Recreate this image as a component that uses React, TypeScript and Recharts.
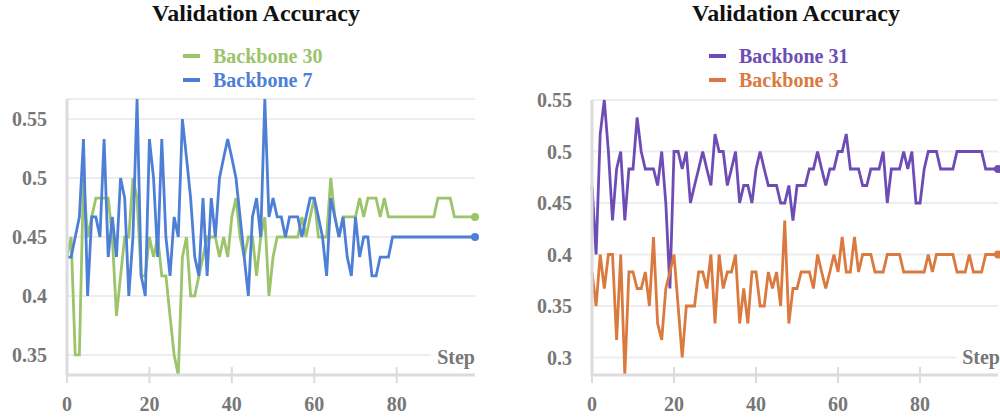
import { LineChart, Line, XAxis, YAxis, CartesianGrid } from "recharts"

// x categories: training steps 0..99
const steps = Array.from({ length: 100 }, (_, i) => i)

const backbone30 = [
    0.433, 0.45, 0.35, 0.35, 0.5, 0.45, 0.467, 0.483, 0.483, 0.483,
    0.483, 0.45, 0.383, 0.417, 0.45, 0.45, 0.5, 0.483, 0.417, 0.417,
    0.45, 0.433, 0.45, 0.417, 0.417, 0.383, 0.35, 0.333, 0.433, 0.45,
    0.4, 0.4, 0.417, 0.433, 0.45, 0.45, 0.45, 0.433, 0.45, 0.433,
    0.467, 0.483, 0.45, 0.433, 0.45, 0.45, 0.417, 0.45, 0.467, 0.4,
    0.433, 0.45, 0.45, 0.45, 0.45, 0.45, 0.45, 0.467, 0.45, 0.467,
    0.483, 0.45, 0.45, 0.45, 0.5, 0.467, 0.45, 0.467, 0.467, 0.467,
    0.467, 0.483, 0.467, 0.483, 0.483, 0.483, 0.467, 0.483, 0.467, 0.467,
    0.467, 0.467, 0.467, 0.467, 0.467, 0.467, 0.467, 0.467, 0.467, 0.467,
    0.483, 0.483, 0.483, 0.483, 0.467, 0.467, 0.467, 0.467, 0.467, 0.467,
]

const backbone7 = [
    0.433, 0.433, 0.45, 0.467, 0.533, 0.4, 0.467, 0.467, 0.45, 0.533,
    0.433, 0.467, 0.433, 0.5, 0.483, 0.4, 0.45, 0.567, 0.417, 0.4,
    0.533, 0.5, 0.433, 0.533, 0.45, 0.417, 0.467, 0.45, 0.55, 0.517,
    0.483, 0.433, 0.417, 0.483, 0.417, 0.483, 0.45, 0.5, 0.517, 0.533,
    0.517, 0.5, 0.467, 0.433, 0.4, 0.467, 0.483, 0.45, 0.567, 0.467,
    0.483, 0.467, 0.467, 0.45, 0.467, 0.467, 0.467, 0.45, 0.467, 0.483,
    0.483, 0.467, 0.45, 0.417, 0.483, 0.467, 0.45, 0.467, 0.433, 0.417,
    0.467, 0.433, 0.45, 0.45, 0.417, 0.417, 0.433, 0.433, 0.433, 0.45,
    0.45, 0.45, 0.45, 0.45, 0.45, 0.45, 0.45, 0.45, 0.45, 0.45,
    0.45, 0.45, 0.45, 0.45, 0.45, 0.45, 0.45, 0.45, 0.45, 0.45,
]

const backbone31 = [
    0.467, 0.4, 0.517, 0.55, 0.5, 0.433, 0.483, 0.5, 0.433, 0.483,
    0.483, 0.533, 0.5, 0.483, 0.483, 0.483, 0.467, 0.5, 0.45, 0.367,
    0.5, 0.5, 0.483, 0.5, 0.45, 0.467, 0.483, 0.5, 0.483, 0.467,
    0.517, 0.5, 0.5, 0.467, 0.483, 0.5, 0.45, 0.467, 0.467, 0.45,
    0.483, 0.5, 0.483, 0.467, 0.467, 0.467, 0.45, 0.45, 0.467, 0.433,
    0.467, 0.467, 0.467, 0.483, 0.483, 0.5, 0.483, 0.467, 0.483, 0.483,
    0.5, 0.5, 0.517, 0.483, 0.483, 0.483, 0.467, 0.467, 0.483, 0.483,
    0.483, 0.5, 0.45, 0.483, 0.483, 0.483, 0.5, 0.483, 0.5, 0.45,
    0.45, 0.483, 0.5, 0.5, 0.5, 0.483, 0.483, 0.483, 0.483, 0.5,
    0.5, 0.5, 0.5, 0.5, 0.5, 0.5, 0.483, 0.483, 0.483, 0.483,
]

const backbone3 = [
    0.383, 0.35, 0.4, 0.367, 0.4, 0.4, 0.317, 0.4, 0.283, 0.383,
    0.383, 0.367, 0.367, 0.383, 0.35, 0.417, 0.333, 0.317, 0.367, 0.383,
    0.4, 0.35, 0.3, 0.35, 0.35, 0.35, 0.383, 0.383, 0.367, 0.4,
    0.333, 0.4, 0.367, 0.383, 0.383, 0.4, 0.333, 0.367, 0.333, 0.383,
    0.383, 0.35, 0.35, 0.383, 0.367, 0.383, 0.35, 0.433, 0.333, 0.367,
    0.367, 0.383, 0.383, 0.383, 0.367, 0.4, 0.383, 0.367, 0.383, 0.4,
    0.383, 0.417, 0.383, 0.383, 0.417, 0.383, 0.4, 0.4, 0.4, 0.383,
    0.383, 0.383, 0.4, 0.4, 0.4, 0.4, 0.383, 0.383, 0.383, 0.383,
    0.383, 0.383, 0.4, 0.383, 0.4, 0.4, 0.4, 0.4, 0.4, 0.383,
    0.383, 0.383, 0.4, 0.383, 0.383, 0.383, 0.4, 0.4, 0.4, 0.4,
]

const leftTicks = [0.35, 0.4, 0.45, 0.5, 0.55]
const rightTicks = [0.3, 0.35, 0.4, 0.45, 0.5, 0.55]
const stepTicks = [0, 20, 40, 60, 80]

const leftSeries = [
    { key: "b30", name: "Backbone 30", color: "#9bc46b", values: backbone30 },
    { key: "b7", name: "Backbone 7", color: "#4e7fd6", values: backbone7 },
]
const rightSeries = [
    { key: "b31", name: "Backbone 31", color: "#6d4db5", values: backbone31 },
    { key: "b3", name: "Backbone 3", color: "#da7a3f", values: backbone3 },
]

const FONT = '"Liberation Serif", "Times New Roman", serif'
const GREY = "#777777"
const AXIS = "#dcdce0"
const GRID = "#ededed"

type Series = { key: string; name: string; color: string; values: number[] }

function toRows(series: Series[]) {
    return steps.map((s, i) => {
        const row: Record<string, number> = { step: s }
        series.forEach((sr) => { row[sr.key] = sr.values[i] })
        return row
    })
}

function lastDot(color: string, count: number) {
    return (props: any) => {
        if (props.index !== count - 1) return <g key={props.key} />
        return <circle key={props.key} cx={props.cx} cy={props.cy} r={4} fill={color} stroke="none" />
    }
}

function StepTick({ x, y, payload }: any) {
    return (
        <g>
            <line x1={x} x2={x} y1={y - 8} y2={y + 8} stroke={AXIS} strokeWidth={2} />
            <text x={x} y={y + 36} textAnchor="middle" fill={GREY}
                fontSize={20} fontWeight="bold" fontFamily={FONT}>
                {payload.value}
            </text>
        </g>
    )
}

function Panel({ series, ticks, left, width, margin, titleX, legendX, plotRight }: {
    series: Series[]; ticks: number[]; left: number; width: number
    margin: { top: number; right: number; bottom: number; left: number }
    titleX: number; legendX: number; plotRight: number
}) {
    const rows = toRows(series)
    return (
        <>
            <div style={{
                position: "absolute", left: titleX - 150, width: 300, top: 1,
                textAlign: "center", fontSize: 24, lineHeight: "24px",
                fontWeight: "bold", color: "#111",
            }}>
                Validation Accuracy
            </div>
            <div style={{ position: "absolute", left: legendX, top: 44 }}>
                {series.map((s) => (
                    <div key={s.key} style={{ display: "flex", alignItems: "center", height: 24 }}>
                        <span style={{ width: 17, height: 4, background: s.color, marginRight: 13 }} />
                        <span style={{ color: s.color, fontSize: 20, fontWeight: "bold", lineHeight: "24px" }}>
                            {s.name}
                        </span>
                    </div>
                ))}
            </div>
            <div style={{ position: "absolute", left, top: 0 }}>
                <LineChart width={width} height={418} data={rows} margin={margin}>
                    <CartesianGrid vertical={false} stroke={GRID} strokeWidth={2} />
                    <XAxis
                        dataKey="step" type="number" domain={[0, steps.length - 1]}
                        ticks={stepTicks} tick={<StepTick />} tickLine={false}
                        tickSize={0} tickMargin={0} height={30}
                        axisLine={{ stroke: AXIS, strokeWidth: 3 }}
                    />
                    <YAxis
                        type="number" domain={["dataMin", "dataMax"]} ticks={ticks}
                        width={57} tickLine={false} tickSize={0} tickMargin={20}
                        axisLine={{ stroke: AXIS, strokeWidth: 3 }}
                        tick={{ fill: GREY, fontSize: 20, fontWeight: "bold", fontFamily: FONT }}
                    />
                    {series.map((s) => (
                        <Line
                            key={s.key} dataKey={s.key} name={s.name} type="linear"
                            stroke={s.color} strokeWidth={2.8}
                            dot={lastDot(s.color, s.values.length)} activeDot={false}
                            isAnimationActive={false}
                        />
                    ))}
                </LineChart>
            </div>
            <div style={{
                position: "absolute", left: plotRight - 44, width: 44, top: 347,
                textAlign: "right", fontSize: 20, lineHeight: "20px", fontWeight: "bold",
                color: GREY, background: "#fff",
            }}>
                Step
            </div>
        </>
    )
}

export default function App() {
    return (
        <div style={{
            position: "relative", width: 1000, height: 418, overflow: "hidden",
            background: "#fff", fontFamily: FONT,
        }}>
            <style>{"body{margin:0}"}</style>
            <Panel
                series={leftSeries} ticks={leftTicks} left={0} width={500}
                margin={{ top: 99, right: 25, bottom: 13, left: 10 }}
                titleX={256} legendX={183} plotRight={475}
            />
            <Panel
                series={rightSeries} ticks={rightTicks} left={500} width={520}
                margin={{ top: 100, right: 22, bottom: 13, left: 35 }}
                titleX={796} legendX={709} plotRight={1000}
            />
        </div>
    )
}
